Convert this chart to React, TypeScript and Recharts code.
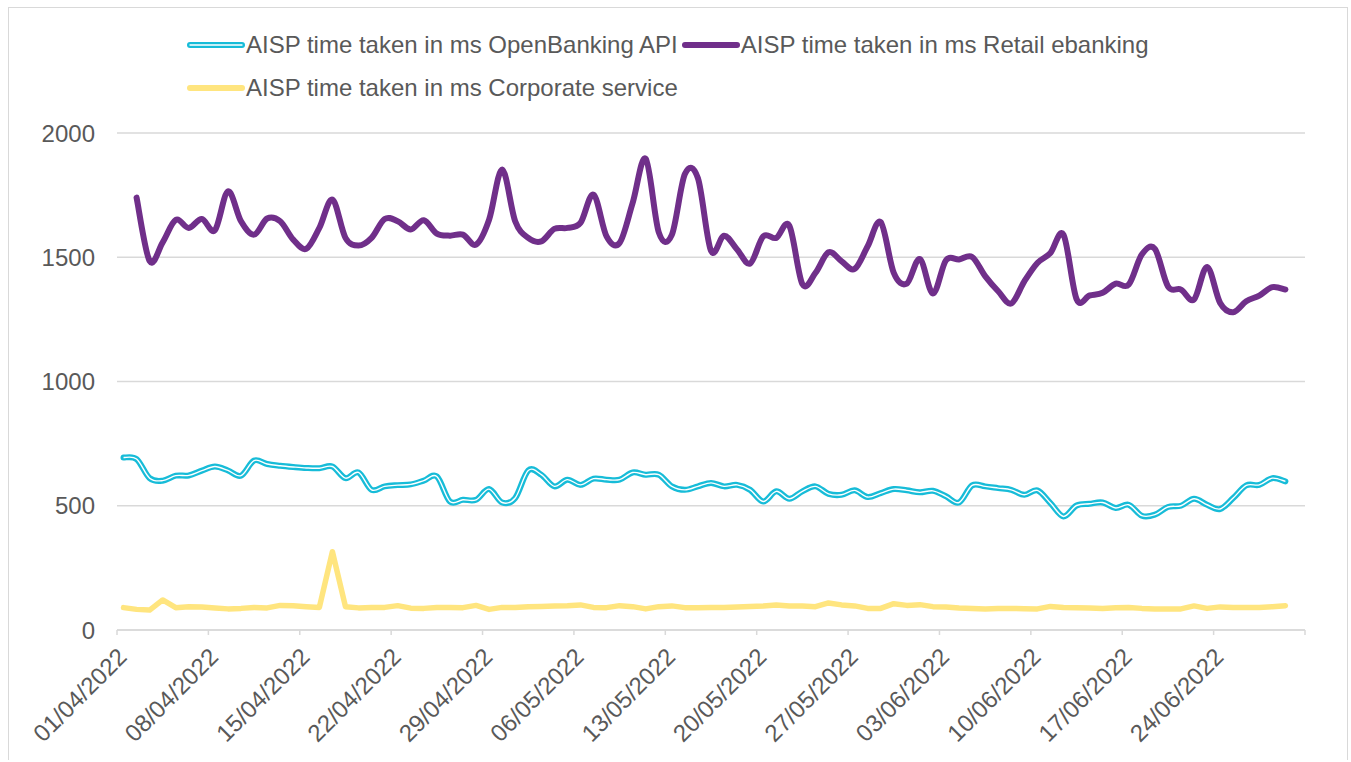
import { LineChart, Line, XAxis, YAxis, CartesianGrid } from "recharts";

const FONT = '"Liberation Sans", Arial, sans-serif';
const TEXT = "#595959";
const GRID = "#D9D9D9";

// one category per day, 01/04/2022 .. 30/06/2022
const dates = Array.from({ length: 91 }, (_, i) => {
  const d = new Date(2022, 3, 1 + i);
  return `${String(d.getDate()).padStart(2, "0")}/${String(d.getMonth() + 1).padStart(2, "0")}/2022`;
});

const xTicks = [0, 7, 14, 21, 28, 35, 42, 49, 56, 63, 70, 77, 84, 91];
const yTicks = [0, 500, 1000, 1500, 2000];

const openBanking = [
  694, 688, 611, 601, 621, 622, 641, 658, 642, 621,
  682, 668, 661, 656, 652, 651, 658, 611, 634, 564,
  578, 583, 586, 601, 618, 517, 524, 524, 567, 513,
  531, 642, 625, 578, 605, 584, 609, 605, 605, 634,
  625, 625, 578, 564, 578, 592, 578, 584, 564, 517,
  558, 528, 558, 578, 548, 544, 562, 535, 551, 567,
  562, 554, 560, 538, 513, 582, 578, 571, 564, 544,
  562, 511, 457, 501, 508, 513, 491, 504, 460, 464,
  495, 500, 528, 504, 487, 531, 582, 584, 611, 598,
];

const retail = [
  null, 1740, 1485, 1560, 1650, 1618, 1654, 1609, 1765, 1645,
  1591, 1656, 1645, 1571, 1534, 1618, 1732, 1578, 1547, 1578,
  1654, 1645, 1612, 1649, 1595, 1587, 1591, 1551, 1651, 1853,
  1645, 1578, 1564, 1614, 1618, 1638, 1752, 1584, 1558, 1719,
  1896, 1600, 1590, 1835, 1818, 1526, 1587, 1531, 1475, 1584,
  1578, 1627, 1392, 1437, 1520, 1484, 1453, 1544, 1641, 1437,
  1394, 1493, 1354, 1488, 1491, 1501, 1424, 1363, 1314, 1403,
  1477, 1517, 1591, 1332, 1346, 1357, 1394, 1390, 1511, 1534,
  1383, 1370, 1330, 1461, 1316, 1279, 1323, 1346, 1380, 1370,
];

const corporate = [
  90, 83, 80, 121, 90, 94, 93, 89, 85, 87,
  91, 89, 99, 98, 94, 91, 315, 94, 89, 91,
  91, 98, 88, 87, 91, 91, 90, 99, 83, 91,
  91, 94, 95, 97, 98, 101, 91, 90, 98, 94,
  85, 94, 97, 90, 90, 91, 91, 93, 95, 97,
  101, 97, 97, 94, 109, 101, 97, 87, 87, 106,
  99, 102, 94, 93, 89, 87, 85, 87, 87, 86,
  85, 95, 91, 90, 89, 87, 90, 91, 87, 85,
  85, 85, 97, 87, 93, 91, 91, 91, 94, 98,
];

const series = [
  { key: "openBanking", name: "AISP time taken in ms OpenBanking API", color: "#17BCD8" },
  { key: "retail", name: "AISP time taken in ms Retail ebanking", color: "#702F8A" },
  { key: "corporate", name: "AISP time taken in ms Corporate service", color: "#FFE57F" },
];

// day i sits in the middle of its date slot
const data = openBanking.map((v, i) => ({
  day: i + 0.5,
  date: dates[i],
  openBanking: v,
  retail: retail[i],
  corporate: corporate[i],
}));

// Excel-like smoothed line (catmull-rom, uniform)
const excelSmooth = (context: any) => {
  let pts: number[][] = [];
  return {
    areaStart() {},
    areaEnd() {},
    lineStart() {
      pts = [];
    },
    lineEnd() {
      const n = pts.length;
      if (!n) return;
      context.moveTo(pts[0][0], pts[0][1]);
      for (let i = 0; i < n - 1; i++) {
        const p0 = pts[Math.max(i - 1, 0)];
        const p1 = pts[i];
        const p2 = pts[i + 1];
        const p3 = pts[Math.min(i + 2, n - 1)];
        context.bezierCurveTo(
          p1[0] + (p2[0] - p0[0]) / 6,
          p1[1] + (p2[1] - p0[1]) / 6,
          p2[0] - (p3[0] - p1[0]) / 6,
          p2[1] - (p3[1] - p1[1]) / 6,
          p2[0],
          p2[1]
        );
      }
    },
    point(x: number, y: number) {
      pts.push([x, y]);
    },
  };
};

const DateTick = ({ x, y, payload }: any) => (
  <text
    x={x}
    y={y}
    dy={16}
    transform={`rotate(-45 ${x} ${y})`}
    textAnchor="end"
    fill={TEXT}
    fontSize={24}
    fontFamily={FONT}
  >
    {dates[payload.value] ?? ""}
  </text>
);

const LegendIcon = ({ color, double }: { color: string; double?: boolean }) => (
  <svg width={58} height={12} style={{ display: "block" }}>
    <line x1={3} y1={6} x2={55} y2={6} stroke={color} strokeWidth={6} strokeLinecap="round" />
    {double && <line x1={3} y1={6} x2={55} y2={6} stroke="#fff" strokeWidth={1.4} strokeLinecap="round" />}
  </svg>
);

export default function App() {
  return (
    <div
      style={{
        position: "absolute",
        left: 8,
        top: 7,
        width: 1338,
        height: 752,
        borderTop: `1px solid ${GRID}`,
        borderLeft: `1px solid ${GRID}`,
        borderRight: `1px solid ${GRID}`,
        background: "#fff",
        fontFamily: FONT,
      }}
    >
      <div
        style={{
          position: "absolute",
          left: 178,
          top: 15,
          width: 990,
          display: "flex",
          flexWrap: "wrap",
          fontSize: 24,
          color: TEXT,
          lineHeight: "43px",
        }}
      >
        {series.map((s, i) => (
          <div key={s.key} style={{ display: "flex", alignItems: "center", marginRight: 4 }}>
            <LegendIcon color={s.color} double={i === 0} />
            <span style={{ marginLeft: 1, whiteSpace: "nowrap" }}>{s.name}</span>
          </div>
        ))}
      </div>
      <LineChart
        width={1338}
        height={752}
        data={data}
        margin={{ top: 125, right: 42, left: 28, bottom: 10 }}
      >
        <CartesianGrid vertical={false} stroke={GRID} strokeWidth={1.5} />
        <XAxis
          type="number"
          dataKey="day"
          domain={[0, 91]}
          ticks={xTicks}
          interval={0}
          height={120}
          stroke={GRID}
          strokeWidth={1.5}
          tickSize={5}
          tickMargin={12}
          tick={<DateTick />}
        />
        <YAxis
          domain={[0, 2000]}
          ticks={yTicks}
          width={80}
          axisLine={false}
          tickLine={false}
          tickSize={0}
          tickMargin={22}
          tick={{ fill: TEXT, fontSize: 24, fontFamily: FONT }}
        />
        <Line
          dataKey="openBanking"
          type={excelSmooth as any}
          stroke={series[0].color}
          strokeWidth={6}
          strokeLinecap="round"
          dot={false}
          activeDot={false}
          isAnimationActive={false}
        />
        <Line
          dataKey="openBanking"
          type={excelSmooth as any}
          stroke="#fff"
          strokeWidth={1.4}
          dot={false}
          activeDot={false}
          isAnimationActive={false}
        />
        <Line
          dataKey="retail"
          type={excelSmooth as any}
          stroke={series[1].color}
          strokeWidth={6}
          strokeLinecap="round"
          strokeLinejoin="round"
          dot={false}
          activeDot={false}
          isAnimationActive={false}
        />
        <Line
          dataKey="corporate"
          type="linear"
          stroke={series[2].color}
          strokeWidth={5.5}
          strokeLinecap="round"
          strokeLinejoin="round"
          dot={false}
          activeDot={false}
          isAnimationActive={false}
        />
      </LineChart>
    </div>
  );
}
